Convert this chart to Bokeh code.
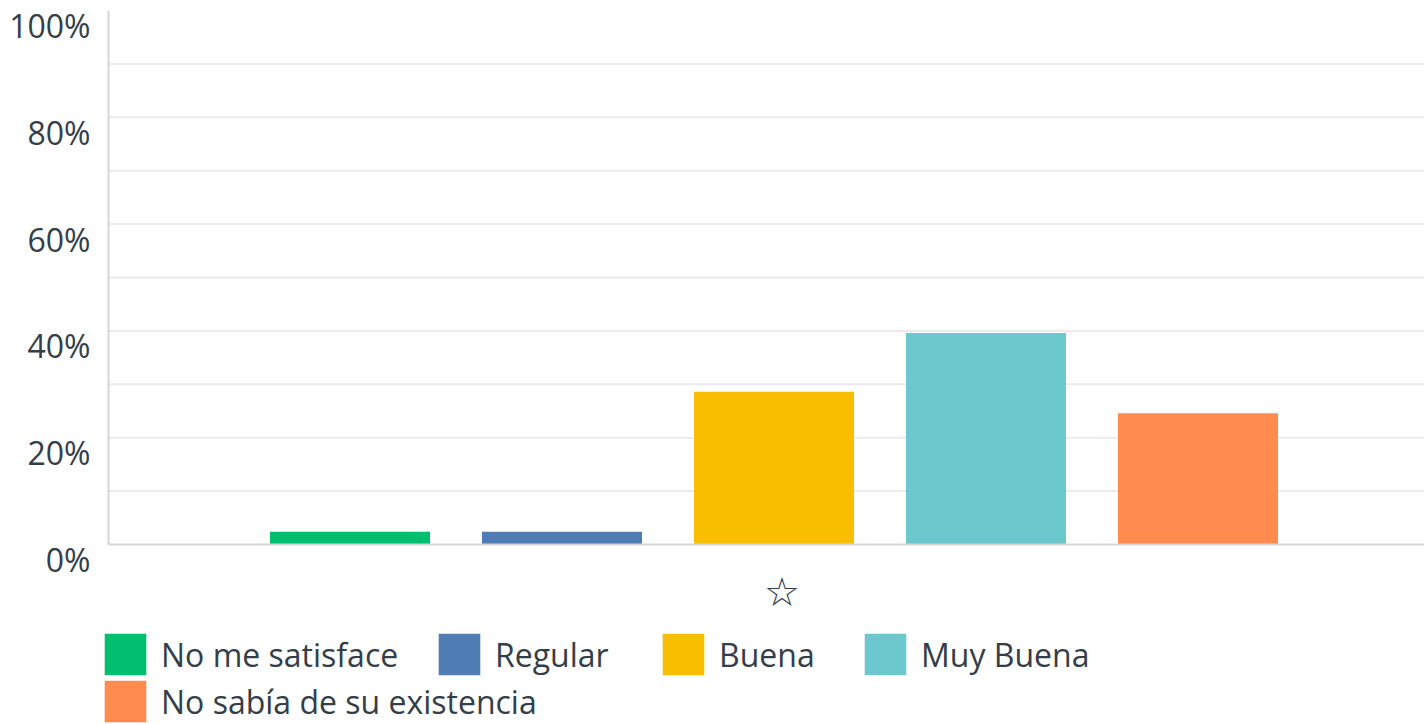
from bokeh.plotting import figure
from bokeh.models import Range1d, Legend, LegendItem, ColumnDataSource
from bokeh.core.properties import value
from bokeh.embed import file_html
from bokeh.resources import INLINE

# ---- data ----
categories = ["No me satisface", "Regular", "Buena", "Muy Buena", "No sabía de su existencia"]
values = [2.4, 2.4, 28.6, 39.6, 24.6]
colors = ["#00bf6f", "#507cb6", "#f9be00", "#6bc8cd", "#ff8b4f"]
y_ticks = [0, 20, 40, 60, 80, 100]
y_tick_labels = ["0%", "20%", "40%", "60%", "80%", "100%"]
grid_ticks = [10, 20, 30, 40, 50, 60, 70, 80, 90]
x_label = "☆"

TEXT = "#333e48"
FONT = "Open Sans"
W, H = 1424, 724

# layout of plot region inside the canvas (pixels)
PX_PER_CAT = 212.0
FIRST_BAR_PX = 349.5
PLOT_LEFT_PX = 108.0
BASE_PX = 544.0
TOP_PX = 10.0
px_per_pct = (BASE_PX - TOP_PX) / 100.0

# legend item placement (swatch left edge px, row centre px)
LEGEND_POS = [(104, 654), (438, 654), (662, 654), (864, 654), (104, 701)]

x_start = -FIRST_BAR_PX / PX_PER_CAT
x_end = x_start + W / PX_PER_CAT
x_left = x_start + PLOT_LEFT_PX / PX_PER_CAT
y_end = 100 + TOP_PX / px_per_pct
y_start = -(H - BASE_PX) / px_per_pct

p = figure(width=W, height=H,
           x_range=Range1d(x_start, x_end), y_range=Range1d(y_start, y_end),
           output_backend="svg", toolbar_location=None,
           x_axis_location=None, y_axis_location=None,
           min_border=0)
p.outline_line_color = None
p.grid.visible = False
p.background_fill_color = "white"
p.border_fill_color = "white"

# grid lines
p.segment(x0=[x_left] * len(grid_ticks), x1=[x_end] * len(grid_ticks),
          y0=grid_ticks, y1=grid_ticks, line_color="#ebebeb", line_width=2)

# bars
renderers = []
for i, (cat, v, c) in enumerate(zip(categories, values, colors)):
    r = p.vbar(x=[i], top=[v], width=0.755, fill_color=c, line_color=None)
    renderers.append(r)

# axis lines
p.segment(x0=[x_left, x_left], x1=[x_end, x_left], y0=[0, 0], y1=[0, 100],
          line_color="#d6d6d6", line_width=2)

# y tick labels (sit below their grid line, as in the original)
ysrc = ColumnDataSource(dict(x=[x_left] * len(y_ticks), y=y_ticks, t=y_tick_labels))
p.text(x="x", y="y", text="t", source=ysrc, x_offset=-18, y_offset=15,
       text_align="right", text_baseline="middle",
       text_font=value(FONT), text_font_size=value("32px"), text_color=TEXT)

# category label (star) under the bars
center = (len(categories) - 1) / 2
p.text(x=[center], y=[0], text=[x_label], x_offset=8, y_offset=47,
       text_align="center", text_baseline="middle",
       text_font=value("DejaVu Sans"), text_font_style="bold",
       text_font_size=value("40px"), text_color=TEXT)

GLYPH = 52  # legend box incl. bokeh's 10% inset -> ~42px swatch
INSET = 5

for cat, r, (sx, cy) in zip(categories, renderers, LEGEND_POS):
    lg = Legend(items=[LegendItem(label=cat, renderers=[r])],
                location=(sx - INSET, H - cy - GLYPH // 2),
                orientation="horizontal",
                glyph_width=GLYPH, glyph_height=GLYPH, label_standoff=10,
                padding=0, margin=0, border_line_color=None,
                background_fill_alpha=0,
                label_text_font=FONT, label_text_font_size="32px",
                label_text_color=TEXT)
    p.add_layout(lg)

open("out.html", "w").write(file_html(p, INLINE))
